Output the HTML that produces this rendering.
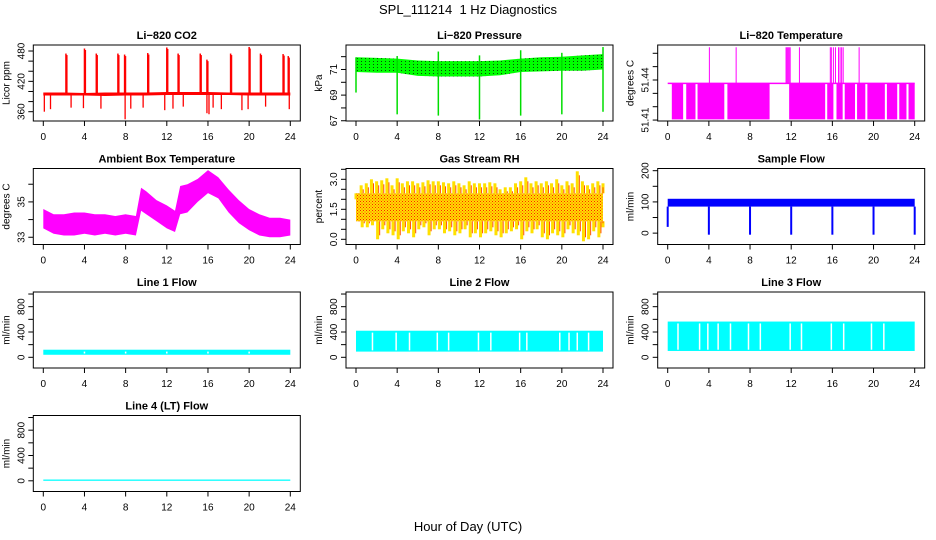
<!DOCTYPE html>
<html><head><meta charset="utf-8"><style>
html,body{margin:0;padding:0;background:#fff;}
svg{display:block;font-family:"Liberation Sans",Arial,sans-serif;}
</style></head><body>
<svg id="chart" width="936" height="540" viewBox="0 0 936 540" xmlns="http://www.w3.org/2000/svg">
<defs>
<pattern id="presDots" width="4" height="3" patternUnits="userSpaceOnUse"><rect width="4" height="3" fill="#00ff00"/><rect x="1" y="1" width="1" height="1" fill="#0a4a0a"/></pattern>
<pattern id="rhDots" width="3" height="3" patternUnits="userSpaceOnUse"><rect width="3" height="3" fill="#ffe000"/><rect x="0" y="0" width="1" height="1" fill="#ff2000"/><rect x="1.5" y="1.5" width="1" height="1" fill="#ff4000"/></pattern>
</defs>
<text x="468" y="14" text-anchor="middle" font-size="13">SPL_111214&#160; 1 Hz Diagnostics</text>
<text x="468" y="531" text-anchor="middle" font-size="13">Hour of Day (UTC)</text>
<g id="panels"></g>
</svg>
<script>
// ---- data ----
const xTicks = [0,4,8,12,16,20,24];

const co2Hours = [0,2,4,6,8,10,12,14,16,18,20,22,24];
const co2Low  = [392,392,392,391,392,392,393,393,393,393,392,392,392];
const co2High = [398,398,397,398,398,398,399,399,399,398,398,398,398];
const co2SpikeHours = [2.2,4.0,5.15,7.25,7.9,10.15,12.0,13.1,15.25,15.9,18.2,20.0,21.1,23.3,23.8];
const co2SpikeValues = [475,485,475,475,473,476,487,475,475,463,475,488,475,474,470];
const co2DipHours = [0.1,0.7,2.7,3.9,5.6,7.95,8.5,9.7,11.8,12.6,13.6,15.9,16.1,16.5,17.3,19.3,19.9,21.6,23.9];
const co2DipValues = [360,365,368,367,366,345,366,368,363,366,370,357,355,368,365,363,365,370,365];

const presHours = [0,2,4,6,8,10,12,14,16,18,20,22,24];
const presHigh = [71.95,71.9,71.85,71.7,71.65,71.65,71.65,71.7,71.85,71.95,72.0,72.1,72.2];
const presLow  = [70.8,70.75,70.75,70.5,70.45,70.45,70.45,70.55,70.8,70.85,70.9,70.9,71.0];
const presDipHours = [0,4,8,12,16,20,24];
const presDipValues = [69.2,67.5,67.4,67.1,67.4,67.5,67.7];
const presPeakValues = [71.95,72.05,72.4,72.1,72.5,72.3,72.75];

const tempBase = 51.4375;
const tempLowValue = 51.4105;
const tempHighValue = 51.4645;
const tempLowStart = [0.4,1.8,2.9,5.8,11.8,15.5,16.4,17.2,18.4,19.4,21.3,22.5,23.4];
const tempLowEnd   = [1.5,2.7,5.5,9.9,15.3,16.1,17.0,18.2,19.2,21.1,22.3,23.2,24.0];
const tempSpikeHours = [4.05,6.65,11.5,11.6,11.7,11.8,11.9,12.8,15.8,15.9,16.1,16.3,16.6,16.75,16.9,17.05,18.6];

const ambHours = [0,1,2,3,4,5,6,7,8,9,9.5,10,11,12,12.8,13.3,14,15,16,17,18,19,20,21,22,23,24];
const ambHigh = [34.6,34.3,34.3,34.4,34.4,34.3,34.3,34.2,34.3,34.2,35.8,35.6,35.1,34.8,34.5,35.9,36.0,36.3,36.8,36.4,35.7,35.1,34.6,34.3,34.1,34.1,34.0];
const ambLow  = [33.5,33.2,33.1,33.1,33.2,33.1,33.2,33.1,33.2,33.1,34.5,34.3,33.9,33.5,33.3,34.3,34.4,35.0,35.5,35.2,34.4,33.8,33.4,33.1,33.0,33.0,33.1];

const rhCoreLow = 0.9;
const rhCoreHigh = 2.3;
const rhMax = [2.0,2.7,2.8,3.0,2.9,2.95,3.05,2.7,3.05,2.8,2.9,2.9,2.8,2.85,2.95,2.9,2.9,2.85,2.8,2.9,2.8,2.7,2.9,2.8,2.8,2.8,2.85,2.8,2.5,2.6,2.6,2.8,2.9,3.1,2.8,2.9,2.8,2.9,2.8,3.0,2.7,2.9,2.8,3.4,2.9,2.7,2.8,2.9,2.8];
const rhMin = [0.9,0.6,0.6,0.7,0.0,0.5,0.3,0.2,0.0,0.4,0.3,0.1,0.5,0.6,0.2,0.5,0.5,0.3,0.4,0.2,0.3,0.5,0.1,0.3,0.1,0.3,0.4,0.2,0.1,0.3,0.4,0.5,0.0,0.4,0.3,0.5,0.1,0.0,0.3,0.2,0.1,0.5,0.3,0.2,-0.1,0.0,0.4,0.1,0.6];

const flowLow = 85, flowHigh = 110;
const flowDipHours = [0,4,8,12,16,20,24];
const flowDipValues = [20,-5,-5,-5,-5,-5,-5];

const line1Low = 40, line1High = 120;
const line1Gaps = [4,8,12,16,20];
const line2Low = 90, line2High = 420;
const line2Gaps = [1.6,3.9,5.2,7.9,9.0,11.9,13.1,15.9,16.6,19.8,20.7,21.5,22.6];
const line3Low = 100, line3High = 565;
const line3Gaps = [1.0,3.1,3.9,4.9,6.1,7.85,9.0,11.9,13.0,15.9,17.1,19.8,21.0];
const line4Low = 0, line4High = 20;

// ---- layout ----
const NS = 'http://www.w3.org/2000/svg';
const root = document.getElementById('panels');
const colLeft = [33.3, 346, 657.7];
const rowTop = [45, 168.5, 292, 415.5];
const boxW = 267, boxH = 76;

function el(tag, attrs, parent){
  const e = document.createElementNS(NS, tag);
  for (const k in attrs) e.setAttribute(k, attrs[k]);
  (parent||root).appendChild(e);
  return e;
}

function makePanel(col,row,title,ytitle,ymin,ymax,yticks,ylabels,name){
  const L = colLeft[col], T = rowTop[row];
  const g = el('g', {});
  
  
  const xs = h => L + 10 + h * 247 / 24;
  const ys = v => T + boxH - (v - ymin) / (ymax - ymin) * boxH;
  const plot = el('g', {}, g);
  
  
  const box = el('rect', {x:L, y:T, width:boxW, height:boxH, fill:'none', stroke:'#000', 'stroke-width':1}, g);
  
  
  const t = el('text', {x:L+boxW/2, y:T-6, 'text-anchor':'middle', 'font-size':11, 'font-weight':'bold'}, g);
  t.textContent = title;
  
  
  const xa = el('g', {}, g);
  
  
  el('line', {x1:xs(0), x2:xs(24), y1:T+boxH, y2:T+boxH, stroke:'#000'}, xa);
  xTicks.forEach(h => {
    el('line', {x1:xs(h), x2:xs(h), y1:T+boxH, y2:T+boxH+5, stroke:'#000'}, xa);
    const tl = el('text', {x:xs(h), y:T+boxH+19, 'text-anchor':'middle', 'font-size':10}, xa);
    tl.textContent = h;
    
    
  });
  const ya = el('g', {}, g);
  
  
  yticks.forEach(v => {
    el('line', {x1:L-5, x2:L, y1:ys(v), y2:ys(v), stroke:'#000'}, ya);
  });
  ylabels.forEach(v => {
    const tx = L - 9, ty = ys(+v);
    const tl = el('text', {x:tx, y:ty, 'text-anchor':'middle', 'font-size':10, transform:`rotate(-90 ${tx} ${ty})`}, ya);
    tl.textContent = v;
    
    
  });
  const yt = el('text', {x:L-24, y:T+boxH/2, 'text-anchor':'middle', 'font-size':10, transform:`rotate(-90 ${L-24} ${T+boxH/2})`}, g);
  yt.textContent = ytitle;
  
  
  return {xs, ys, plot};
}

function band(p, hours, hi, lo, fill){
  let d = '';
  hours.forEach((h,i) => { d += (i ? 'L' : 'M') + p.xs(h).toFixed(1) + ',' + p.ys(hi[i]).toFixed(1); });
  for (let i = hours.length-1; i >= 0; i--) d += 'L' + p.xs(hours[i]).toFixed(1) + ',' + p.ys(lo[i]).toFixed(1);
  const e = el('path', {d: d+'Z', fill: fill, stroke: 'none'}, p.plot);
  
  
  return e;
}
function vline(p, h, v1, v2, color, w){
  const e = el('line', {x1:p.xs(h), x2:p.xs(h), y1:p.ys(v1), y2:p.ys(v2), stroke:color, 'stroke-width':w||1.2}, p.plot);
  
  
  return e;
}
function rectBand(p, lo, hi, color){
  const e = el('rect', {x:p.xs(0), y:p.ys(hi), width:p.xs(24)-p.xs(0), height:p.ys(lo)-p.ys(hi), fill:color}, p.plot);
  
  
}

{
  const p = makePanel(0,0,'Li\u2212820 CO2','Licor ppm',341.6,491.9,[360,380,400,420,440,460,480],['360','420','480'],'co2');
  band(p, co2Hours, co2High, co2Low, '#ff0000');
  co2SpikeHours.forEach((h,i) => { vline(p,h,396,co2SpikeValues[i],'#ff0000',1.5); vline(p,h+0.1,396,co2SpikeValues[i]-3,'#ff0000',1.2); });
  co2DipHours.forEach((h,i) => vline(p,h,394,co2DipValues[i],'#ff0000',1.3));
}
{
  const p = makePanel(1,0,'Li\u2212820 Pressure','kPa',66.98,72.91,[67,68,69,70,71,72],['67','69','71'],'pressure');
  band(p, presHours, presHigh, presLow, 'url(#presDots)');
  presDipHours.forEach((h,i) => { vline(p,h,71.2,presDipValues[i],'#00dd00',1.5); vline(p,h,71.2,presPeakValues[i],'#00dd00',1.5); });
}
{
  const p = makePanel(2,0,'Li\u2212820 Temperature','degrees C',51.4093,51.4662,[51.41,51.42,51.43,51.44,51.45,51.46],['51.41','51.44'],'li820-temp');
  tempLowStart.forEach((s,i) => {
    const e = el('rect', {x:p.xs(s), y:p.ys(tempBase), width:p.xs(tempLowEnd[i])-p.xs(s), height:p.ys(tempLowValue)-p.ys(tempBase), fill:'#ff00ff'}, p.plot);
    
    
  });
  const bl = el('line', {x1:p.xs(0), x2:p.xs(24), y1:p.ys(tempBase), y2:p.ys(tempBase), stroke:'#ff00ff', 'stroke-width':1.5}, p.plot);
  
  
  tempSpikeHours.forEach(h => vline(p,h,tempBase,tempHighValue,'#ff00ff',1));
}
{
  const p = makePanel(0,1,'Ambient Box Temperature','degrees C',32.59,36.89,[33,34,35,36],['33','35'],'ambient-temp');
  band(p, ambHours, ambHigh, ambLow, '#ff00ff');
}
{
  const p = makePanel(1,1,'Gas Stream RH','percent',-0.26,3.54,[0,0.5,1,1.5,2,2.5,3,3.5],['0.0','1.5','3.0'],'rh');
  rhMax.forEach((v,i) => {
    const h = i*0.5;
    vline(p, Math.min(h,24), rhCoreHigh, v, '#ffe000', 3);
    vline(p, Math.min(h+0.2,24), rhCoreHigh, v-0.2, '#ff5000', 1);
  });
  rhMin.forEach((v,i) => {
    const h = i*0.5;
    vline(p, Math.min(h+0.1,24), rhCoreLow, v, '#ffe000', 3);
    vline(p, Math.min(h+0.3,24), rhCoreLow, v+0.2, '#ff5000', 1);
  });
  rectBand(p, rhCoreLow, rhCoreHigh, 'url(#rhDots)');
}
{
  const p = makePanel(2,1,'Sample Flow','ml/min',-36.4,207,[0,50,100,150,200],['0','100','200'],'sample-flow');
  rectBand(p, flowLow, flowHigh, '#0000ff');
  flowDipHours.forEach((h,i) => vline(p,h,flowLow,flowDipValues[i],'#0000ff',2));
}
function linePanel(col,row,title,name,lo,hi,gaps){
  const p = makePanel(col,row,title,'ml/min',-169,1032,[0,200,400,600,800,1000],['0','400','800'],name);
  rectBand(p, lo, hi, '#00ffff');
  gaps.forEach(h => {
    const e = el('line', {x1:p.xs(h), x2:p.xs(h), y1:p.ys(hi-30), y2:p.ys(lo+20), stroke:'#fff', 'stroke-width':1.5}, p.plot);
    
    
  });
}
linePanel(0,2,'Line 1 Flow','line1-flow',line1Low,line1High,line1Gaps);
linePanel(1,2,'Line 2 Flow','line2-flow',line2Low,line2High,line2Gaps);
linePanel(2,2,'Line 3 Flow','line3-flow',line3Low,line3High,line3Gaps);
linePanel(0,3,'Line 4 (LT) Flow','line4-flow',line4Low,line4High,[]);
</script>
</body></html>
